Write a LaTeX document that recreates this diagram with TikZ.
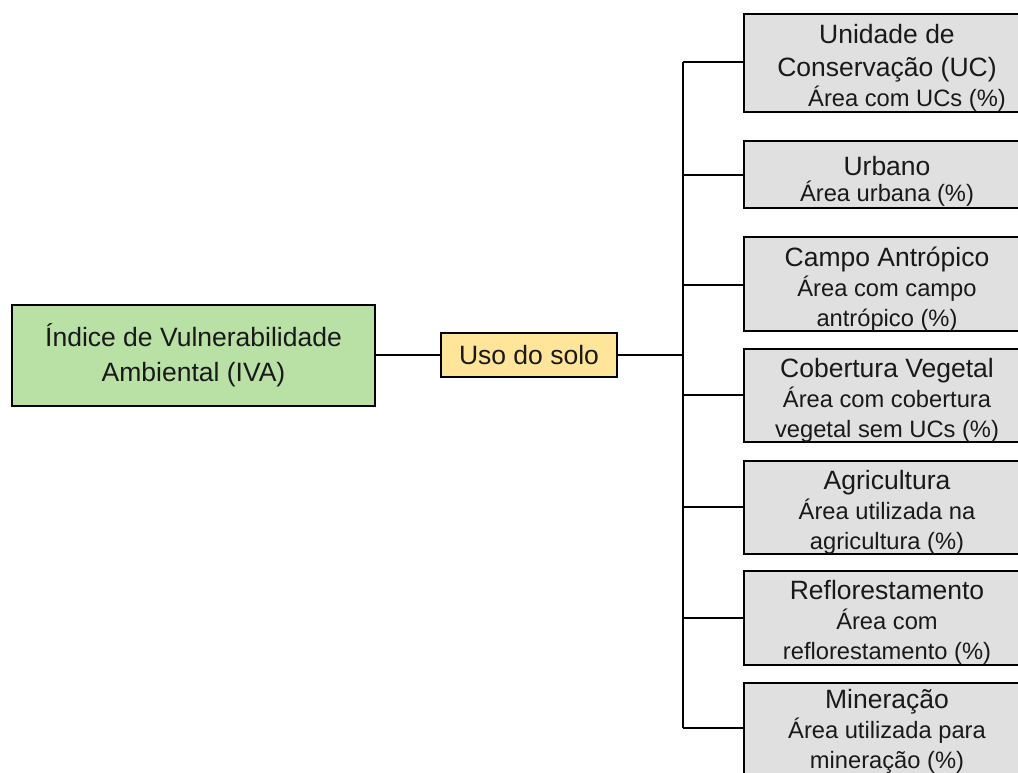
\documentclass[tikz,border=0pt]{standalone}
\usepackage{fontspec}
\setmainfont{Liberation Sans}
\definecolor{ivagreen}{RGB}{185,224,165}
\definecolor{usoyellow}{RGB}{255,229,153}
\definecolor{boxgray}{RGB}{224,224,224}
\newcommand{\ttlfont}{\fontsize{26.5}{30}\selectfont}
\newcommand{\dscfont}{\fontsize{23.7}{29}\selectfont}
\tikzset{
  box/.style={draw=black, line width=2pt, rectangle, inner sep=0pt, align=center, text=black!90},
  leaf/.style={box, fill=boxgray, minimum width=286pt},
  leaftext/.style={inner sep=0pt, align=center, text=black!90, font=\ttlfont},
  conn/.style={draw=black, line width=2pt}
}
\begin{document}
\begin{tikzpicture}[x=1pt,y=-1pt]
\useasboundingbox (0,0) rectangle (1018,772);
\fill[white] (0,0) rectangle (1018,772);
\node[box, fill=ivagreen, minimum width=363pt, minimum height=101pt, font=\fontsize{26.5}{35}\selectfont] (iva) at (193.5,355) {Índice de Vulnerabilidade\\Ambiental (IVA)};
\node[box, fill=usoyellow, minimum width=176pt, minimum height=44pt, font=\ttlfont] (uso) at (529,355) {Uso do solo};
\node[leaf, minimum height=98pt] (c1) at (887,63) {};
\node[leaf, minimum height=67pt] (c2) at (887,174.5) {};
\node[leaf, minimum height=94pt] (c3) at (887,284) {};
\node[leaf, minimum height=93pt] (c4) at (887,395.5) {};
\node[leaf, minimum height=93pt] (c5) at (887,507.5) {};
\node[leaf, minimum height=94pt] (c6) at (887,618) {};
\node[leaf, minimum height=96pt, anchor=north] (c7) at (887,682) {};
\node[leaftext] (c1t) at ([yshift=-4.5pt]c1.center) {Unidade de\\[3pt]Conservação (UC)\\\dscfont\hspace*{40pt}Área com UCs (\%)};
\node[leaftext] (c2t) at ([yshift=-7pt]c2.center) {Urbano\\[-4pt]\dscfont Área urbana (\%)};
\node[leaftext] (c3t) at ([yshift=-5pt]c3.center) {Campo Antrópico\\\dscfont Área com campo\\\dscfont antrópico (\%)};
\node[leaftext] (c4t) at ([yshift=-4.5pt]c4.center) {Cobertura Vegetal\\\dscfont Área com cobertura\\\dscfont vegetal sem UCs (\%)};
\node[leaftext] (c5t) at ([yshift=-4.5pt]c5.center) {Agricultura\\\dscfont Área utilizada na\\\dscfont agricultura (\%)};
\node[leaftext] (c6t) at ([yshift=-4.5pt]c6.center) {Reflorestamento\\\dscfont Área com\\\dscfont reflorestamento (\%)};
\node[leaftext] (c7t) at (c7.center) {Mineração\\\dscfont Área utilizada para\\\dscfont mineração (\%)};
\coordinate (tu) at (683,355);
\coordinate (t1) at (683,62);
\coordinate (t2) at (683,175);
\coordinate (t3) at (683,285);
\coordinate (t4) at (683,395);
\coordinate (t5) at (683,507);
\coordinate (t6) at (683,618);
\coordinate (t7) at (683,728);
\draw[conn] (iva.east) -- (uso.west);
\draw[conn] (uso.east) -- (tu);
\draw[conn] (t1) -- (t7);
\foreach \i in {1,...,7} {\draw[conn] (t\i) -- (t\i -| c\i.west);}
\end{tikzpicture}
\end{document}
